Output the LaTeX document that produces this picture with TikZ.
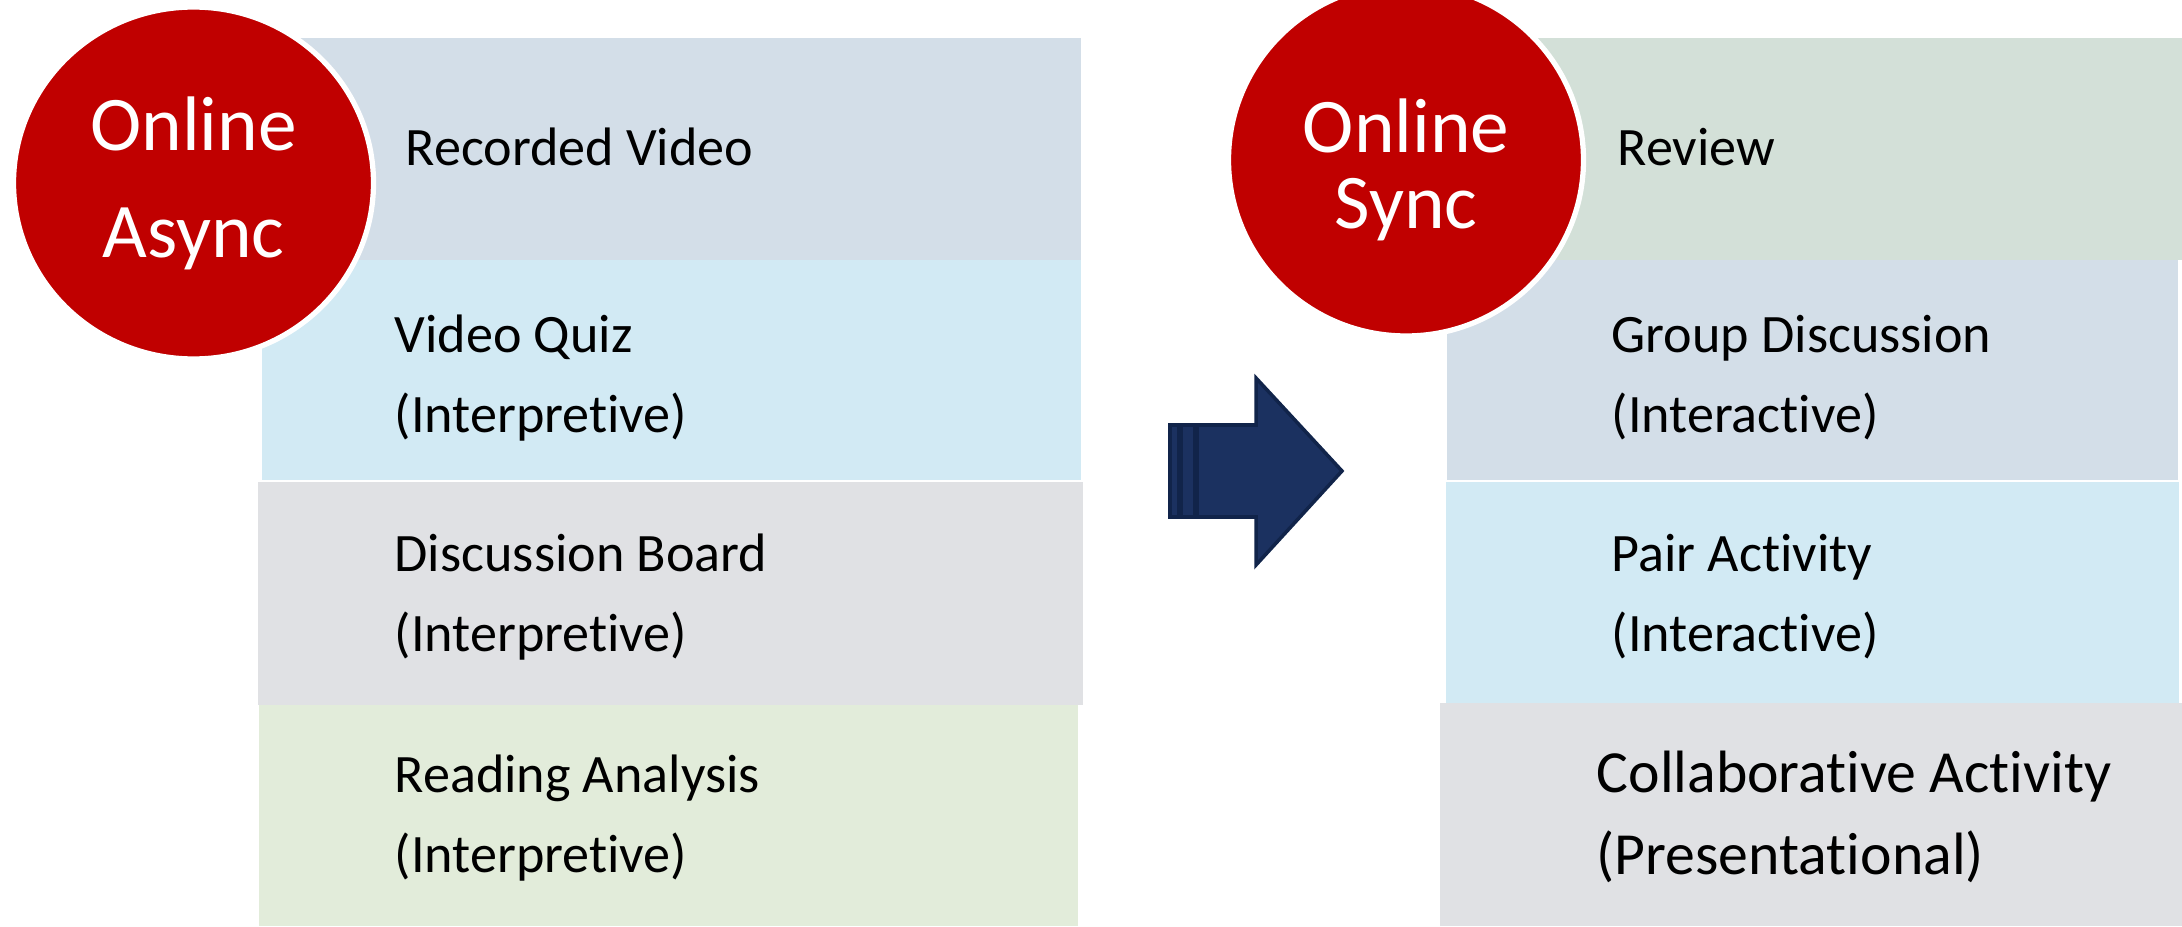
\documentclass[tikz,border=0pt]{standalone}
\usepackage{fontspec}
\setmainfont{Carlito}[Ligatures=NoCommon]
\usetikzlibrary{shapes.geometric}

\definecolor{seal}{HTML}{C00000}
\definecolor{slate}{HTML}{D3DEE8}
\definecolor{sky}{HTML}{D2EAF4}
\definecolor{ash}{HTML}{E0E1E4}
\definecolor{sage}{HTML}{E2ECDA}
\definecolor{mist}{HTML}{D3E0D8}
\definecolor{navy}{HTML}{1B3160}
\definecolor{navyedge}{HTML}{11244A}

\begin{document}
\begin{tikzpicture}[
    scale=1.0,
    badge/.style={ellipse, fill=seal, draw=white, line width=1.5pt, minimum width=3.6cm, minimum height=3.52cm, inner sep=0pt},
    badgetext/.style={text=white, align=center, inner sep=0pt},
    band/.style={rectangle, anchor=north west, inner sep=0pt, outer sep=0pt},
    entry/.style={anchor=west, align=left, inner sep=0pt, font=\fontsize{15.4}{22.7}\selectfont},
    stripe/.style={fill=navy, draw=navyedge, line width=1pt}
]

    \useasboundingbox (0,0) rectangle (21.82,9.26);
    \clip (0,0) rectangle (21.82,9.26);

    % --- Online Async ---
    % Bands
    \node[band, fill=slate, minimum width=8.21cm, minimum height=2.22cm] (b1) at (2.60, 8.88) {};
    \node[band, fill=sky, minimum width=8.19cm, minimum height=2.20cm] (b2) at (2.62, 6.66) {};
    \node[band, fill=ash, minimum width=8.25cm, minimum height=2.23cm] (b3) at (2.58, 4.44) {};
    \node[band, fill=sage, minimum width=8.19cm, minimum height=2.21cm] (b4) at (2.59, 2.21) {};
    % Labels
    \node[entry] (recvid) at (4.05, 7.79) {Recorded Video};
    \node[entry] (quiz) at (3.94, 5.48) {Video Quiz\\(Interpretive)};
    \node[entry] (board) at (3.94, 3.29) {Discussion Board\\(Interpretive)};
    \node[entry] (reading) at (3.94, 1.08) {Reading Analysis\\(Interpretive)};
    % Badge
    \node[badge] (async) at (1.935, 7.43) {};
    \node[badgetext, font=\fontsize{22}{30.5}\selectfont] (asynctext) at (async) {Online\\Async};

    % --- Striped arrow ---
    \filldraw[stripe] (11.70, 4.09) rectangle (11.79, 5.01);
    \filldraw[stripe] (11.81, 4.09) rectangle (11.95, 5.01);
    \filldraw[stripe] (11.97, 5.01) -- (12.56, 5.01) -- (12.56, 5.48)
        -- (13.42, 4.55) -- (12.56, 3.61) -- (12.56, 4.09) -- (11.97, 4.09) -- cycle;

    % --- Online Sync ---
    % Bands
    \node[band, fill=mist, minimum width=7.35cm, minimum height=2.22cm] (r1) at (14.47, 8.88) {};
    \node[band, fill=slate, minimum width=7.31cm, minimum height=2.20cm] (r2) at (14.47, 6.66) {};
    \node[band, fill=sky, minimum width=7.33cm, minimum height=2.21cm] (r3) at (14.46, 4.44) {};
    \node[band, fill=ash, minimum width=7.42cm, minimum height=2.23cm] (r4) at (14.40, 2.23) {};
    % Labels
    \node[entry] (review) at (16.17, 7.79) {Review};
    \node[entry] (group) at (16.11, 5.48) {Group Discussion\\(Interactive)};
    \node[entry] (pair) at (16.11, 3.29) {Pair Activity\\(Interactive)};
    \node[entry, font=\fontsize{17}{23.3}\selectfont] (collab) at (15.96, 1.09) {Collaborative Activity\\(Presentational)};
    % Badge
    \node[badge, minimum width=3.55cm] (sync) at (14.06, 7.66) {};
    \node[badgetext, font=\fontsize{22}{21.8}\selectfont] (synctext) at ([yshift=-0.1cm]sync.center) {Online\\Sync};

\end{tikzpicture}
\end{document}
